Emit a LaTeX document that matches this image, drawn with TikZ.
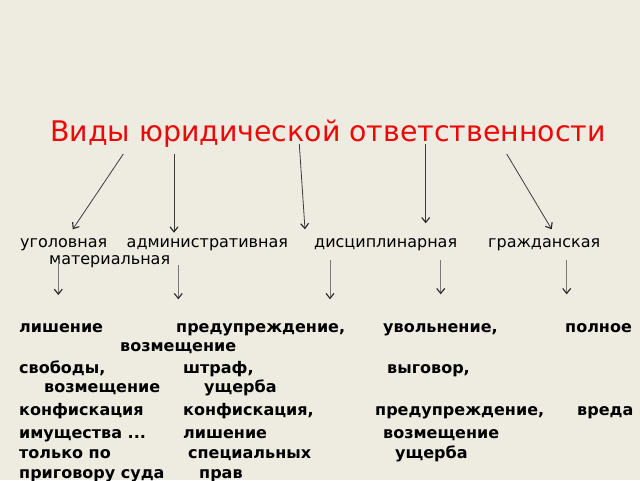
\documentclass[tikz,border=0pt]{standalone}
\usepackage{fontspec}
\setmainfont{DejaVu Sans}
\usepackage{xcolor}
\usetikzlibrary{arrows.meta}
\definecolor{slidebg}{RGB}{238,235,224}
\definecolor{titlered}{RGB}{235,8,8}
\definecolor{arrowgray}{RGB}{60,60,60}
\definecolor{stemgray}{RGB}{120,120,120}

\begin{document}
\begin{tikzpicture}[x=1pt, y=-1pt,
    every node/.style={anchor=base west, inner sep=0pt},
    kind/.style={font=\fontsize{16}{19}\selectfont},
    item/.style={font=\fontsize{16}{19}\selectfont\bfseries},
    pointer/.style={draw=arrowgray, line width=0.8pt, -{Straight Barb[length=5pt, width=8pt, line width=1.1pt, color=black!85]}}]
        % Background
        \fill[slidebg] (0,0) rectangle (640,480);
        \useasboundingbox (0,0) rectangle (640,480);
        % Title
        \node[text=titlered, font=\fontsize{28.4}{34}\selectfont] (title) at (50,141) {Виды юридической ответственности};
        % Kinds
        \node[kind] (crim) at (20,247) {уголовная};
        \node[kind] (admin) at (126.5,247) {административная};
        \node[kind] (disc) at (314,247) {дисциплинарная};
        \node[kind] (civil) at (488,247) {гражданская};
        \node[kind] (mat) at (49,264) {материальная};
        % Arrows from title
        \foreach \i/\xa/\ya/\xb/\yb in {1/123.3/154/72.7/229.3, 2/174/154/174/232.7, 3/299.3/144/305/229.3, 4/425.7/144/425.7/223.3, 5/506.7/154/551.7/229.3} {
            \coordinate (top\i) at (\xa,\ya);
            \coordinate (kind\i) at (\xb,\yb);
            \draw[pointer] (top\i) -- (kind\i);
        }
        % Arrows to sanctions
        \foreach \i/\xa/\ya/\yb in {1/58.3/260/295, 2/178.3/265/299.3, 3/330/260/299.3, 4/440.7/260/294.3, 5/566.7/260/294.3} {
            \coordinate (from\i) at (\xa,\ya);
            \coordinate (to\i) at (\xa,\yb);
            \draw[pointer, draw=stemgray, line width=1pt] (from\i) -- (to\i);
        }
        % Sanctions
        \node[item] (s1a) at (19,332) {лишение};
        \node[item] (s1b) at (176,332) {предупреждение,};
        \node[item] (s1c) at (383,332) {увольнение,};
        \node[item] (s1d) at (565,332) {полное};
        \node[item] (s2a) at (120,351) {возмещение};
        \node[item] (s3a) at (19,373) {свободы,};
        \node[item] (s3b) at (183,373) {штраф,};
        \node[item] (s3c) at (387,373) {выговор,};
        \node[item] (s4a) at (44,392) {возмещение};
        \node[item] (s4b) at (204,392) {ущерба};
        \node[item] (s5a) at (19,415) {конфискация};
        \node[item] (s5b) at (183,415) {конфискация,};
        \node[item] (s5c) at (375,415) {предупреждение,};
        \node[item] (s5d) at (577,415) {вреда};
        \node[item] (s6a) at (19,438) {имущества ...};
        \node[item] (s6b) at (183,438) {лишение};
        \node[item] (s6c) at (383,438) {возмещение};
        \node[item] (s7a) at (19,458) {только по};
        \node[item] (s7b) at (188,458) {специальных};
        \node[item] (s7c) at (395,458) {ущерба};
        \node[item] (s8a) at (19,478) {приговору суда};
        \node[item] (s8b) at (199,478) {прав};
    \end{tikzpicture}
\end{document}
